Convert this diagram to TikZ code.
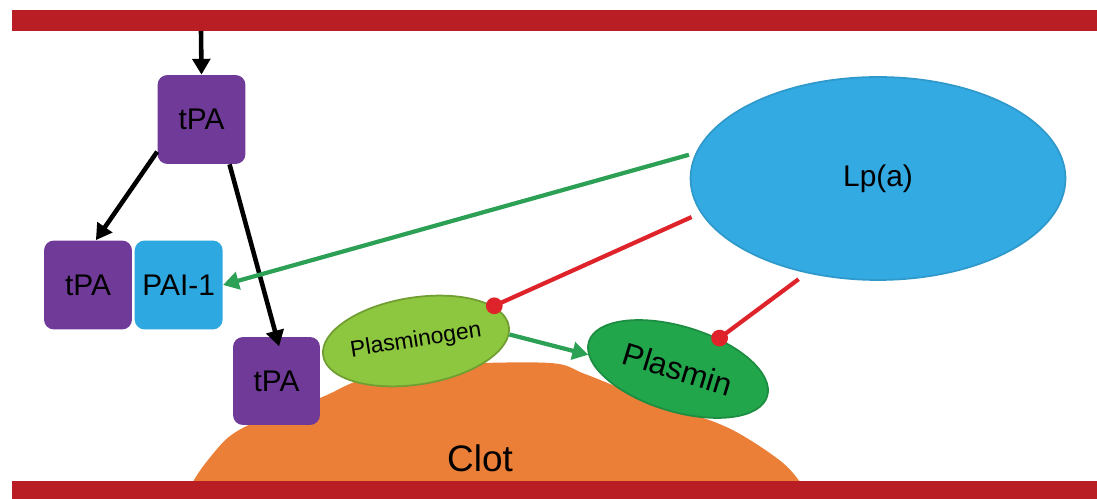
\documentclass[tikz,border=0pt]{standalone}
\usepackage{fontspec}
\setmainfont{Liberation Sans}
\usepackage{tikz}
\usetikzlibrary{shapes.geometric, arrows.meta, positioning, calc}
\definecolor{vesselred}{RGB}{184,30,36}
\definecolor{tpapurple}{RGB}{112,58,152}
\definecolor{paiblue}{RGB}{46,168,225}
\definecolor{lpablue}{RGB}{52,170,226}
\definecolor{plglight}{RGB}{141,198,63}
\definecolor{plmgreen}{RGB}{34,166,76}
\definecolor{clotorange}{RGB}{235,127,55}
\definecolor{actgreen}{RGB}{44,160,84}
\definecolor{inhred}{RGB}{222,36,42}
\tikzstyle{tpabox} = [rectangle, rounded corners=0.2cm, minimum width=1.76cm, minimum height=1.78cm, inner sep=0pt, fill=tpapurple, font=\fontsize{17}{20}\selectfont]
\tikzstyle{paibox} = [tpabox, fill=paiblue]
\tikzstyle{blob} = [ellipse, inner sep=0pt, line width=1pt]
\tikzstyle{arrow} = [line width=2.6pt, ->, >={Triangle[length=9pt,width=10pt]}]
\tikzstyle{inhibit} = [line width=2.4pt, inhred, -{Circle[length=9.5pt]}]

\begin{document}
\begin{tikzpicture}[x=0.02cm, y=-0.02cm]
    \useasboundingbox (0,0) rectangle (1097,499);

    % Clot
    \fill[clotorange] plot[smooth, tension=0.55] coordinates {(188,495) (194,480) (208,460) (230,436) (262,419) (320,398) (352,383) (392,369) (450,364) (550,363) (585,374) (650,400) (717,423) (750,440) (783,463) (800,482) (806,495)} -- cycle;
    \node (clot) at (480,458) {\fontsize{21}{24}\selectfont Clot};

    % Vessel wall
    \fill[vesselred] (12,10) rectangle (1097,31);
    \fill[vesselred] (12,481) rectangle (1097,499);
    \coordinate (wall) at (201,31);

    % tPA
    \node (tpaTop) [tpabox] at (201.5,119.5) {tPA};

    % tPA--PAI-1 complex
    \node (cTPA) [tpabox] at (88,285) {tPA};
    \node (pai) [paibox, right=0.04cm of cTPA] {PAI-1};

    % tPA on clot
    \node (tpaLow) [tpabox, minimum width=1.74cm, minimum height=1.76cm] at (276.5,381) {tPA};

    % Plasminogen and plasmin
    \node (plg) [blob, fill=plglight, draw=plglight!80!black, minimum width=3.76cm, minimum height=1.74cm, rotate=9, font=\fontsize{13}{15}\selectfont] at (416,341) {Plasminogen};
    \node (plm) [blob, fill=plmgreen, draw=plmgreen!85!black, minimum width=3.73cm, minimum height=1.7cm, rotate=-17, font=\fontsize{18}{21}\selectfont] at (678,369) {Plasmin};

    % Lp(a)
    \node (lpa) [blob, fill=lpablue, draw=lpablue!90!black, minimum width=7.5cm, minimum height=4.06cm, font=\fontsize{17}{20}\selectfont] at (878,178.5) {Lp(a)};

    % Arrows
    \draw [arrow] (wall) -- (tpaTop.north);
    \draw [arrow] (tpaTop.216) -- (cTPA.80);
    \draw [arrow, shorten >=-0.2cm] (tpaTop.302) -- (tpaLow.north);
    \draw [arrow, actgreen, line width=2.4pt, shorten <=0.14cm] (lpa.172) -- (pai.east);
    \draw [arrow, actgreen, line width=2.4pt] (plg.355) -- (plm.188);
    \draw [inhibit, shorten <=0.2cm, shorten >=-0.15cm] (lpa.191) -- (plg);
    \draw [inhibit, shorten <=0.2cm, shorten >=-0.15cm] (lpa.233) -- (plm);
\end{tikzpicture}
\end{document}
